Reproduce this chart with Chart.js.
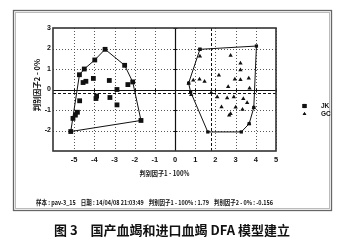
<!DOCTYPE html>
<html>
<head>
<meta charset="utf-8">
<script src="https://cdn.jsdelivr.net/npm/chart.js@4/dist/chart.umd.min.js"></script>
<style>
  html, body { margin: 0; padding: 0; background: #fff; }
  #wrap { width: 340px; height: 242px; }
</style>
</head>
<body>
<div id="wrap"><canvas id="c" width="340" height="242"></canvas></div>
<script>
// Discriminant scores (factor 1, factor 2) for domestic (JK) and imported (GC) samples
const jkX = [-3.47, -3.98, -4.50, -4.74, -4.56, -4.42, -4.05, -3.26, -2.50, -2.10, -2.34, -2.88,
             -4.73, -3.89, -3.92, -3.23, -2.88, -4.84, -4.94, -5.06, -5.17, -1.69];
const jkY = [ 1.96,  1.44,  1.00,  0.72,  0.34,  0.40,  0.54,  0.44,  1.18,  0.37,  0.24,  0.00,
             -0.55, -0.32, -0.44, -0.39, -0.75, -1.11, -1.25, -1.41, -2.05, -1.51];

const gcX = [1.23, 2.75, 3.24, 3.24, 2.17, 2.96, 3.24, 3.65, 0.90, 1.21, 1.46, 0.67, 2.63, 3.69,
             0.80, 1.79, 2.09, 2.58, 2.91, 3.38, 3.57, 3.90, 2.30, 3.00, 3.34, 2.75, 2.68, 3.67];
const gcY = [1.62, 1.66, 1.28, 0.95, 0.70, 0.50, 0.47, 0.55, 0.45, 0.50, 0.39, 0.31, 0.14, 0.06,
             -0.25, -0.16, -0.37, -0.42, -0.36, -0.45, -0.65, -0.88, -0.85, -0.87, -0.98, -1.18, -1.25, -1.67];

// Group boundaries (convex hull vertices, in drawing order)
const jkHullX = [-5.17, -4.74, -4.50, -3.98, -3.47, -2.50, -2.10, -1.69];
const jkHullY = [-2.05,  0.72,  1.00,  1.44,  1.96,  1.18,  0.37, -1.51];
const gcHullX = [1.23, 4.03, 3.90, 3.67, 3.28, 1.62, 0.77, 0.67];
const gcHullY = [1.96, 2.12, -0.88, -1.67, -2.07, -2.07, -0.12, 0.31];

// Current sample position
const sampleName = 'pav-3_15';
const sampleDate = '14/04/08 21:03:49';
const sampleF1 = 1.79;
const sampleF2 = -0.156;

const xTickValues = [-5, -4, -3, -2, -1, 0, 1, 2, 3, 4, 5];
const yTickValues = [-2, -1, 0, 1, 2, 3];
const xMin = -6.05, xMax = 5, yMin = -3, yMax = 3;

const seriesNames = ['JK', 'GC'];
const xTitle = '判别因子1 - 100%';
const yTitle = '判别因子2 - 0%';
const caption = '图 3　国产血竭和进口血竭 DFA 模型建立';

function pts(xs, ys) { return xs.map((x, i) => ({ x: x, y: ys[i] })); }
function closed(xs, ys) { const p = pts(xs, ys); p.push(p[0]); return p; }

const INK = '#111';

function fitText(ctx, text, x, y, maxW, align) {
  const w = ctx.measureText(text).width;
  const s = w > maxW ? maxW / w : 1;
  ctx.save();
  ctx.translate(x, y);
  ctx.scale(s, 1);
  ctx.textAlign = align;
  ctx.fillText(text, 0, 0);
  ctx.restore();
}

const decor = {
  id: 'decor',
  beforeDraw(chart) {
    const ctx = chart.ctx;
    ctx.save();
    ctx.fillStyle = '#fff';
    ctx.fillRect(0, 0, chart.width, chart.height);
    ctx.restore();
  },
  beforeDatasetsDraw(chart) {
    const ctx = chart.ctx, a = chart.chartArea;
    const xs = chart.scales.x, ys = chart.scales.y;
    ctx.save();
    // dotted grid
    ctx.strokeStyle = '#444';
    ctx.lineWidth = 0.9;
    ctx.setLineDash([1, 2]);
    xTickValues.forEach(v => {
      if (v === 0) return;
      const px = Math.round(xs.getPixelForValue(v)) + 0.5;
      ctx.beginPath(); ctx.moveTo(px, a.top); ctx.lineTo(px, a.bottom); ctx.stroke();
    });
    yTickValues.forEach(v => {
      if (v === 0 || v === yMax) return;
      const py = Math.round(ys.getPixelForValue(v)) + 0.5;
      ctx.beginPath(); ctx.moveTo(a.left, py); ctx.lineTo(a.right, py); ctx.stroke();
    });
    // sample cross-hair
    ctx.strokeStyle = INK;
    ctx.lineWidth = 1;
    ctx.setLineDash([3, 2]);
    const sx = Math.round(xs.getPixelForValue(sampleF1)) + 0.5;
    const sy = Math.round(ys.getPixelForValue(sampleF2)) + 0.5;
    ctx.beginPath(); ctx.moveTo(sx, a.top); ctx.lineTo(sx, a.bottom); ctx.stroke();
    ctx.beginPath(); ctx.moveTo(a.left, sy); ctx.lineTo(a.right, sy); ctx.stroke();
    // zero axes with small ticks
    ctx.setLineDash([]);
    ctx.lineWidth = 1.2;
    const zx = Math.round(xs.getPixelForValue(0)) + 0.5;
    const zy = Math.round(ys.getPixelForValue(0)) + 0.5;
    ctx.beginPath(); ctx.moveTo(zx, a.top); ctx.lineTo(zx, a.bottom); ctx.stroke();
    ctx.beginPath(); ctx.moveTo(a.left, zy); ctx.lineTo(a.right, zy); ctx.stroke();
    ctx.lineWidth = 1;
    xTickValues.forEach(v => {
      const px = Math.round(xs.getPixelForValue(v)) + 0.5;
      ctx.beginPath(); ctx.moveTo(px, zy - 2); ctx.lineTo(px, zy + 2); ctx.stroke();
    });
    yTickValues.forEach(v => {
      const py = Math.round(ys.getPixelForValue(v)) + 0.5;
      ctx.beginPath(); ctx.moveTo(zx - 2, py); ctx.lineTo(zx + 2, py); ctx.stroke();
    });
    ctx.restore();
  },
  afterDraw(chart) {
    const ctx = chart.ctx, a = chart.chartArea;
    ctx.save();
    // plot frame
    ctx.strokeStyle = '#333';
    ctx.lineWidth = 1.6;
    ctx.strokeRect(a.left, a.top, a.right - a.left, a.bottom - a.top);
    // outer panel frame
    ctx.strokeStyle = '#666';
    ctx.lineWidth = 1.3;
    ctx.strokeRect(13.5, 10.5, 318, 200);
    ctx.strokeStyle = '#bbb';
    ctx.lineWidth = 1;
    ctx.strokeRect(15.5, 12.5, 314, 196);

    ctx.fillStyle = INK;
    ctx.textBaseline = 'middle';
    // axis titles
    ctx.font = 'bold 7px "Noto Sans CJK SC"';
    fitText(ctx, xTitle, (a.left + a.right) / 2, 173, 50, 'center');
    ctx.save();
    ctx.translate(37, 85);
    ctx.rotate(-Math.PI / 2);
    ctx.font = 'bold 7.5px "Noto Sans CJK SC"';
    fitText(ctx, yTitle, 0, 0, 58, 'center');
    ctx.restore();

    // legend, using each dataset's own marker style
    [0, 1].forEach((di, k) => {
      const ds = chart.data.datasets[di];
      const cy = 106 + k * 8;
      Chart.helpers.drawPoint(ctx, {
        pointStyle: ds.pointStyle, radius: ds.pointRadius * 0.85, rotation: 0, borderWidth: 0
      }, 304.5, cy);
      ctx.fillStyle = ds.backgroundColor;
      ctx.fill();
      ctx.fillStyle = INK;
      ctx.font = 'bold 6.5px "Liberation Sans"';
      ctx.textAlign = 'left';
      ctx.fillText(ds.label, 321, cy);
    });

    // sample info line
    ctx.font = 'bold 6.5px "Noto Sans CJK SC"';
    const info = '样本 : ' + sampleName + '    日期 : ' + sampleDate + '    ' +
      xTitle + ' : ' + sampleF1 + '    ' + yTitle + ' : ' + sampleF2;
    const w = ctx.measureText(info).width;
    const s = Math.min(1, 237 / w);
    ctx.save();
    ctx.translate(36, 203);
    ctx.scale(s, 1);
    ctx.textAlign = 'left';
    ctx.fillText(info, 0, 0);
    ctx.restore();

    // figure caption
    ctx.font = 'bold 13px "Noto Sans CJK SC"';
    ctx.fillStyle = '#111';
    fitText(ctx, caption, 172, 230, 236, 'center');
    ctx.restore();
  }
};

new Chart(document.getElementById('c'), {
  type: 'scatter',
  data: {
    datasets: [
      {
        label: seriesNames[0], data: pts(jkX, jkY),
        pointStyle: 'rect', pointRadius: 3.4, pointBorderWidth: 0,
        backgroundColor: INK, borderColor: INK
      },
      {
        label: seriesNames[1], data: pts(gcX, gcY),
        pointStyle: 'triangle', pointRadius: 2.5, pointBorderWidth: 0,
        backgroundColor: INK, borderColor: INK
      },
      {
        label: 'JK hull', data: closed(jkHullX, jkHullY), showLine: true,
        borderColor: INK, borderWidth: 1, pointRadius: 0, fill: false, tension: 0
      },
      {
        label: 'GC hull', data: closed(gcHullX, gcHullY), showLine: true,
        borderColor: INK, borderWidth: 1, pointStyle: 'rect', pointRadius: 2.3,
        pointBackgroundColor: INK, pointBorderWidth: 0, fill: false, tension: 0
      }
    ]
  },
  options: {
    responsive: false,
    animation: false,
    devicePixelRatio: 1,
    layout: { padding: { left: 0, top: 28, right: 64, bottom: 0 } },
    plugins: { legend: { display: false }, tooltip: { enabled: false } },
    scales: {
      x: {
        type: 'linear', min: xMin, max: xMax,
        afterBuildTicks: sc => { sc.ticks = xTickValues.map(v => ({ value: v })); },
        afterFit: sc => { sc.height = 91; },
        grid: { display: false, drawTicks: false },
        border: { display: false },
        ticks: {
          autoSkip: false, maxRotation: 0, padding: 4, color: INK,
          font: { family: 'Liberation Sans', size: 7.5, weight: 'bold' }
        }
      },
      y: {
        type: 'linear', min: yMin, max: yMax,
        afterBuildTicks: sc => { sc.ticks = yTickValues.map(v => ({ value: v })); },
        afterFit: sc => { sc.width = 53; },
        grid: { display: false, drawTicks: false },
        border: { display: false },
        ticks: {
          autoSkip: false, padding: 2, color: INK,
          font: { family: 'Liberation Sans', size: 7, weight: 'bold' }
        }
      }
    }
  },
  plugins: [decor]
});
</script>
</body>
</html>
